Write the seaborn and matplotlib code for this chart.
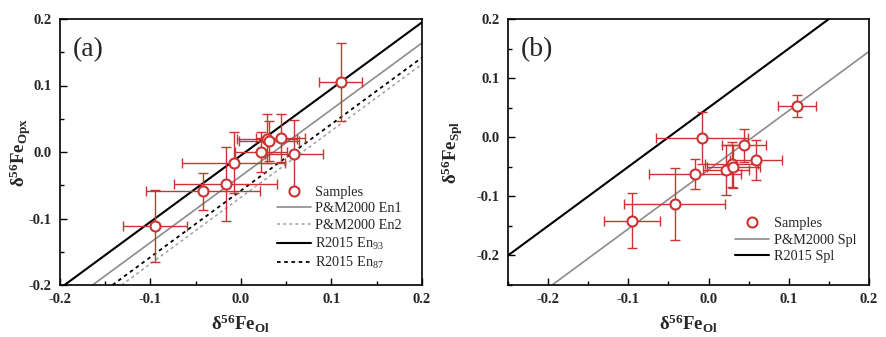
import matplotlib
matplotlib.use("Agg")
import matplotlib.pyplot as plt
from matplotlib.lines import Line2D
from matplotlib.ticker import MultipleLocator
import pandas as pd
import seaborn as sns

# Olivine (x) and coexisting mineral (y) iron isotope compositions, 2SD errors
ol = [-0.095, -0.042, -0.017, -0.008, 0.022, 0.029, 0.031, 0.044, 0.059, 0.110]
ol_err = [0.035, 0.063, 0.057, 0.057, 0.029, 0.033, 0.033, 0.027, 0.032, 0.024]
opx = [-0.111, -0.059, -0.048, -0.016, 0.000, 0.020, 0.016, 0.021, -0.003, 0.105]
opx_err = [0.054, 0.028, 0.056, 0.046, 0.030, 0.037, 0.030, 0.036, 0.051, 0.059]
spl = [-0.141, -0.113, -0.062, -0.002, -0.055, -0.046, -0.050, -0.014, -0.039, 0.053]
spl_err = [0.046, 0.061, 0.026, 0.044, 0.042, 0.038, 0.036, 0.028, 0.034, 0.018]

# Equilibrium fractionation lines: y = x + offset
opx_line_labels = ["P&M2000 En1", "P&M2000 En2", "R2015 En$_{93}$", "R2015 En$_{87}$"]
opx_line_offsets = [-0.036, -0.068, -0.005, -0.058]
spl_line_labels = ["P&M2000 Spl", "R2015 Spl"]
spl_line_offsets = [-0.055, 0.050]

sns.set_theme(style="ticks")
plt.rcParams["font.family"] = ["Liberation Serif", "DejaVu Serif"]
plt.rcParams["mathtext.fontset"] = "custom"
plt.rcParams["mathtext.rm"] = "Liberation Serif"
plt.rcParams["mathtext.it"] = "Liberation Serif:italic"
plt.rcParams["mathtext.bf"] = "Liberation Serif:bold"

RED = "#cc3333"
GRAY = "#8c8c8c"
LIGHT_GRAY = "#a0a0a0"

line_styles_opx = [
    dict(color=GRAY, lw=1.2, ls="-"),
    dict(color=LIGHT_GRAY, lw=1.1, ls=(0, (2, 2))),
    dict(color="black", lw=1.5, ls="-"),
    dict(color="black", lw=1.3, ls=(0, (2, 2))),
]
line_styles_spl = [
    dict(color=GRAY, lw=1.2, ls="-"),
    dict(color="black", lw=1.5, ls="-"),
]

fig = plt.figure(figsize=(8.87, 3.37), dpi=100)
ax1 = fig.add_axes([60 / 887, 52 / 337, 362 / 887, 266 / 337])
ax2 = fig.add_axes([508 / 887, 52 / 337, 361 / 887, 266 / 337])


def draw_panel(ax, y, yerr, labels, offsets, styles, lims, tag, ylabel,
               legend_anchor, ylabel_x):
    handles = []
    for lab, off, st in zip(labels, offsets, styles):
        ax.axline((0, off), slope=1, zorder=1, **st)
        handles.append(Line2D([], [], label=lab, **st))
    ax.errorbar(ol, y, xerr=ol_err, yerr=yerr, fmt="none", ecolor=RED,
                elinewidth=1.0, capsize=3.5, capthick=1.0, zorder=2)
    df = pd.DataFrame({"ol": ol, "y": y})
    sns.scatterplot(data=df, x="ol", y="y", ax=ax, marker="o", s=52,
                    facecolor="white", edgecolor=RED, linewidth=1.5,
                    zorder=3, legend=False)
    sample_handle = Line2D([], [], ls="none", marker="o", markersize=7.2,
                           markerfacecolor="white", markeredgecolor=RED,
                           markeredgewidth=1.5, label="Samples")
    ax.legend(handles=[sample_handle] + handles, loc="lower right",
              bbox_to_anchor=legend_anchor, frameon=False, fontsize=10.3,
              handlelength=2.4, handletextpad=0.3, labelspacing=0.25,
              borderaxespad=0)

    ax.set_xlim(*lims)
    ax.set_ylim(*lims)
    ax.xaxis.set_major_locator(MultipleLocator(0.1))
    ax.yaxis.set_major_locator(MultipleLocator(0.1))
    ax.xaxis.set_minor_locator(MultipleLocator(0.05))
    ax.yaxis.set_minor_locator(MultipleLocator(0.05))
    ax.xaxis.set_major_formatter(lambda v, p: f"{v:.1f}".replace("-0.0", "0.0"))
    ax.yaxis.set_major_formatter(lambda v, p: f"{v:.1f}".replace("-0.0", "0.0"))
    ax.tick_params(which="both", direction="in", top=False, right=False,
                   width=1.0, color="black")
    ax.tick_params(which="major", length=5, pad=6, labelsize=10.5)
    ax.tick_params(which="minor", length=3)
    for lab in ax.get_xticklabels() + ax.get_yticklabels():
        lab.set_fontweight("bold")
    for sp in ax.spines.values():
        sp.set_visible(True)
        sp.set_color("black")
        sp.set_linewidth(1.2)

    ax.set_xlabel("δ$^{\\mathbf{56}}$Fe$_{\\mathbf{Ol}}$", fontsize=13.5,
                  fontweight="bold", labelpad=5)
    ax.set_ylabel(ylabel, fontsize=13.5, fontweight="bold")
    ax.yaxis.set_label_coords(ylabel_x, 0.5)
    ax.text(0.035, 0.885, tag, transform=ax.transAxes, fontsize=20,
            va="center", ha="left")


draw_panel(ax1, opx, opx_err, opx_line_labels, opx_line_offsets, line_styles_opx,
           (-0.2, 0.2), "(a)", "δ$^{\\mathbf{56}}$Fe$_{\\mathbf{Opx}}$",
           (0.96, 0.03), -0.075)
draw_panel(ax2, spl, spl_err, spl_line_labels, spl_line_offsets, line_styles_spl,
           (-0.25, 0.2), "(b)", "δ$^{\\mathbf{56}}$Fe$_{\\mathbf{Spl}}$",
           (0.98, 0.06), -0.118)

fig.savefig("out.png", dpi=100)
